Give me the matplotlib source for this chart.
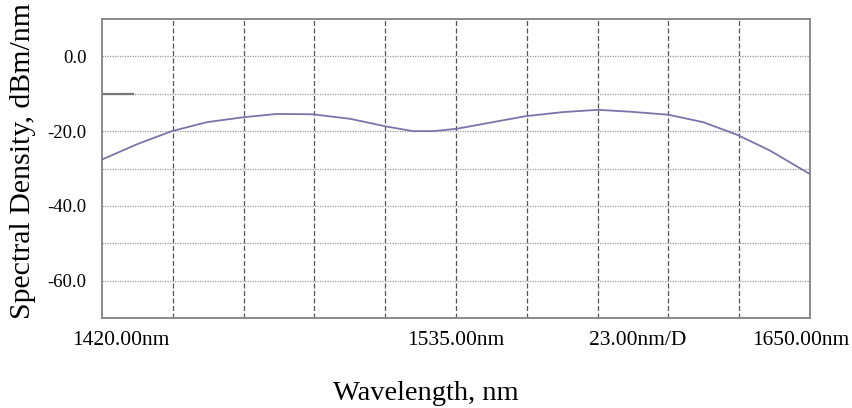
import matplotlib
matplotlib.use("Agg")
import matplotlib.pyplot as plt
import matplotlib.transforms as mtransforms

# ---------------- data ----------------
wavelength = [1420, 1431.4, 1442.7, 1454.1, 1465.8, 1476.9, 1488.5, 1500.6, 1512.6,
              1521.0, 1527.5, 1535.0, 1557.6, 1569.8, 1581.1, 1591.5, 1603.9,
              1615.3, 1626.4, 1637.0, 1650]
density = [-27.6, -23.5, -20.0, -17.6, -16.3, -15.4, -15.5, -16.7, -18.8,
           -20.0, -20.0, -19.4, -16.0, -14.9, -14.3, -14.8, -15.6,
           -17.6, -21.0, -25.2, -31.5]

y_ticks = [0, -20, -40, -60]
y_tick_labels = ["0.0", "-20.0", "-40.0", "-60.0"]

x_labels = ["1420.00nm", "1535.00nm", "23.00nm/D", "1650.00nm"]
x_label_pos = [-0.042, 0.5, 0.756, 1.056]
x_label_align = ["left", "center", "center", "right"]

# ---------------- figure ----------------
plt.rcParams['font.family'] = ['Liberation Serif', 'DejaVu Serif']

fig = plt.figure(figsize=(8.52, 4.08), dpi=100)
ax = fig.add_axes([0.1197, 0.2206, 0.831, 0.7328])

ax.set_xlim(1420, 1650)
ax.set_ylim(-70, 10)

# grid: vertical dashed every 23 nm, horizontal dotted every 10 dB
for i in range(1, 10):
    ax.axvline(1420 + 23 * i, color="#555555", lw=0.9, ls=(0, (4, 2)), zorder=1)
for v in range(-60, 10, 10):
    ax.axhline(v, color="#999999", lw=0.9, ls=(0, (1, 1)), zorder=1)

# reference marker at top-left
ax.plot([1420, 1430], [-10, -10], color="#777777", lw=1.6, zorder=2)

ax.plot(wavelength, density, color="#7a74a8", lw=1.3, zorder=3)

for s in ax.spines.values():
    s.set_color("#8a8a8a")
    s.set_linewidth(1.4)

ax.set_xticks([])
ax.set_yticks(y_ticks)
ax.set_yticklabels(y_tick_labels, fontsize=13.5)
ax.tick_params(axis="y", length=0, pad=11)

trans = mtransforms.blended_transform_factory(ax.transAxes, fig.transFigure)
for lab, pos, ha in zip(x_labels, x_label_pos, x_label_align):
    ax.text(pos, 0.165, lab, transform=trans, ha=ha, va="center", fontsize=15.5)

fig.text(0.5, 0.035, "Wavelength, nm", ha="center", va="center", fontsize=20.5)
fig.text(0.027, 0.605, "Spectral Density, dBm/nm", rotation=90,
         ha="center", va="center", fontsize=21.5)

fig.savefig("out.png", dpi=100)
